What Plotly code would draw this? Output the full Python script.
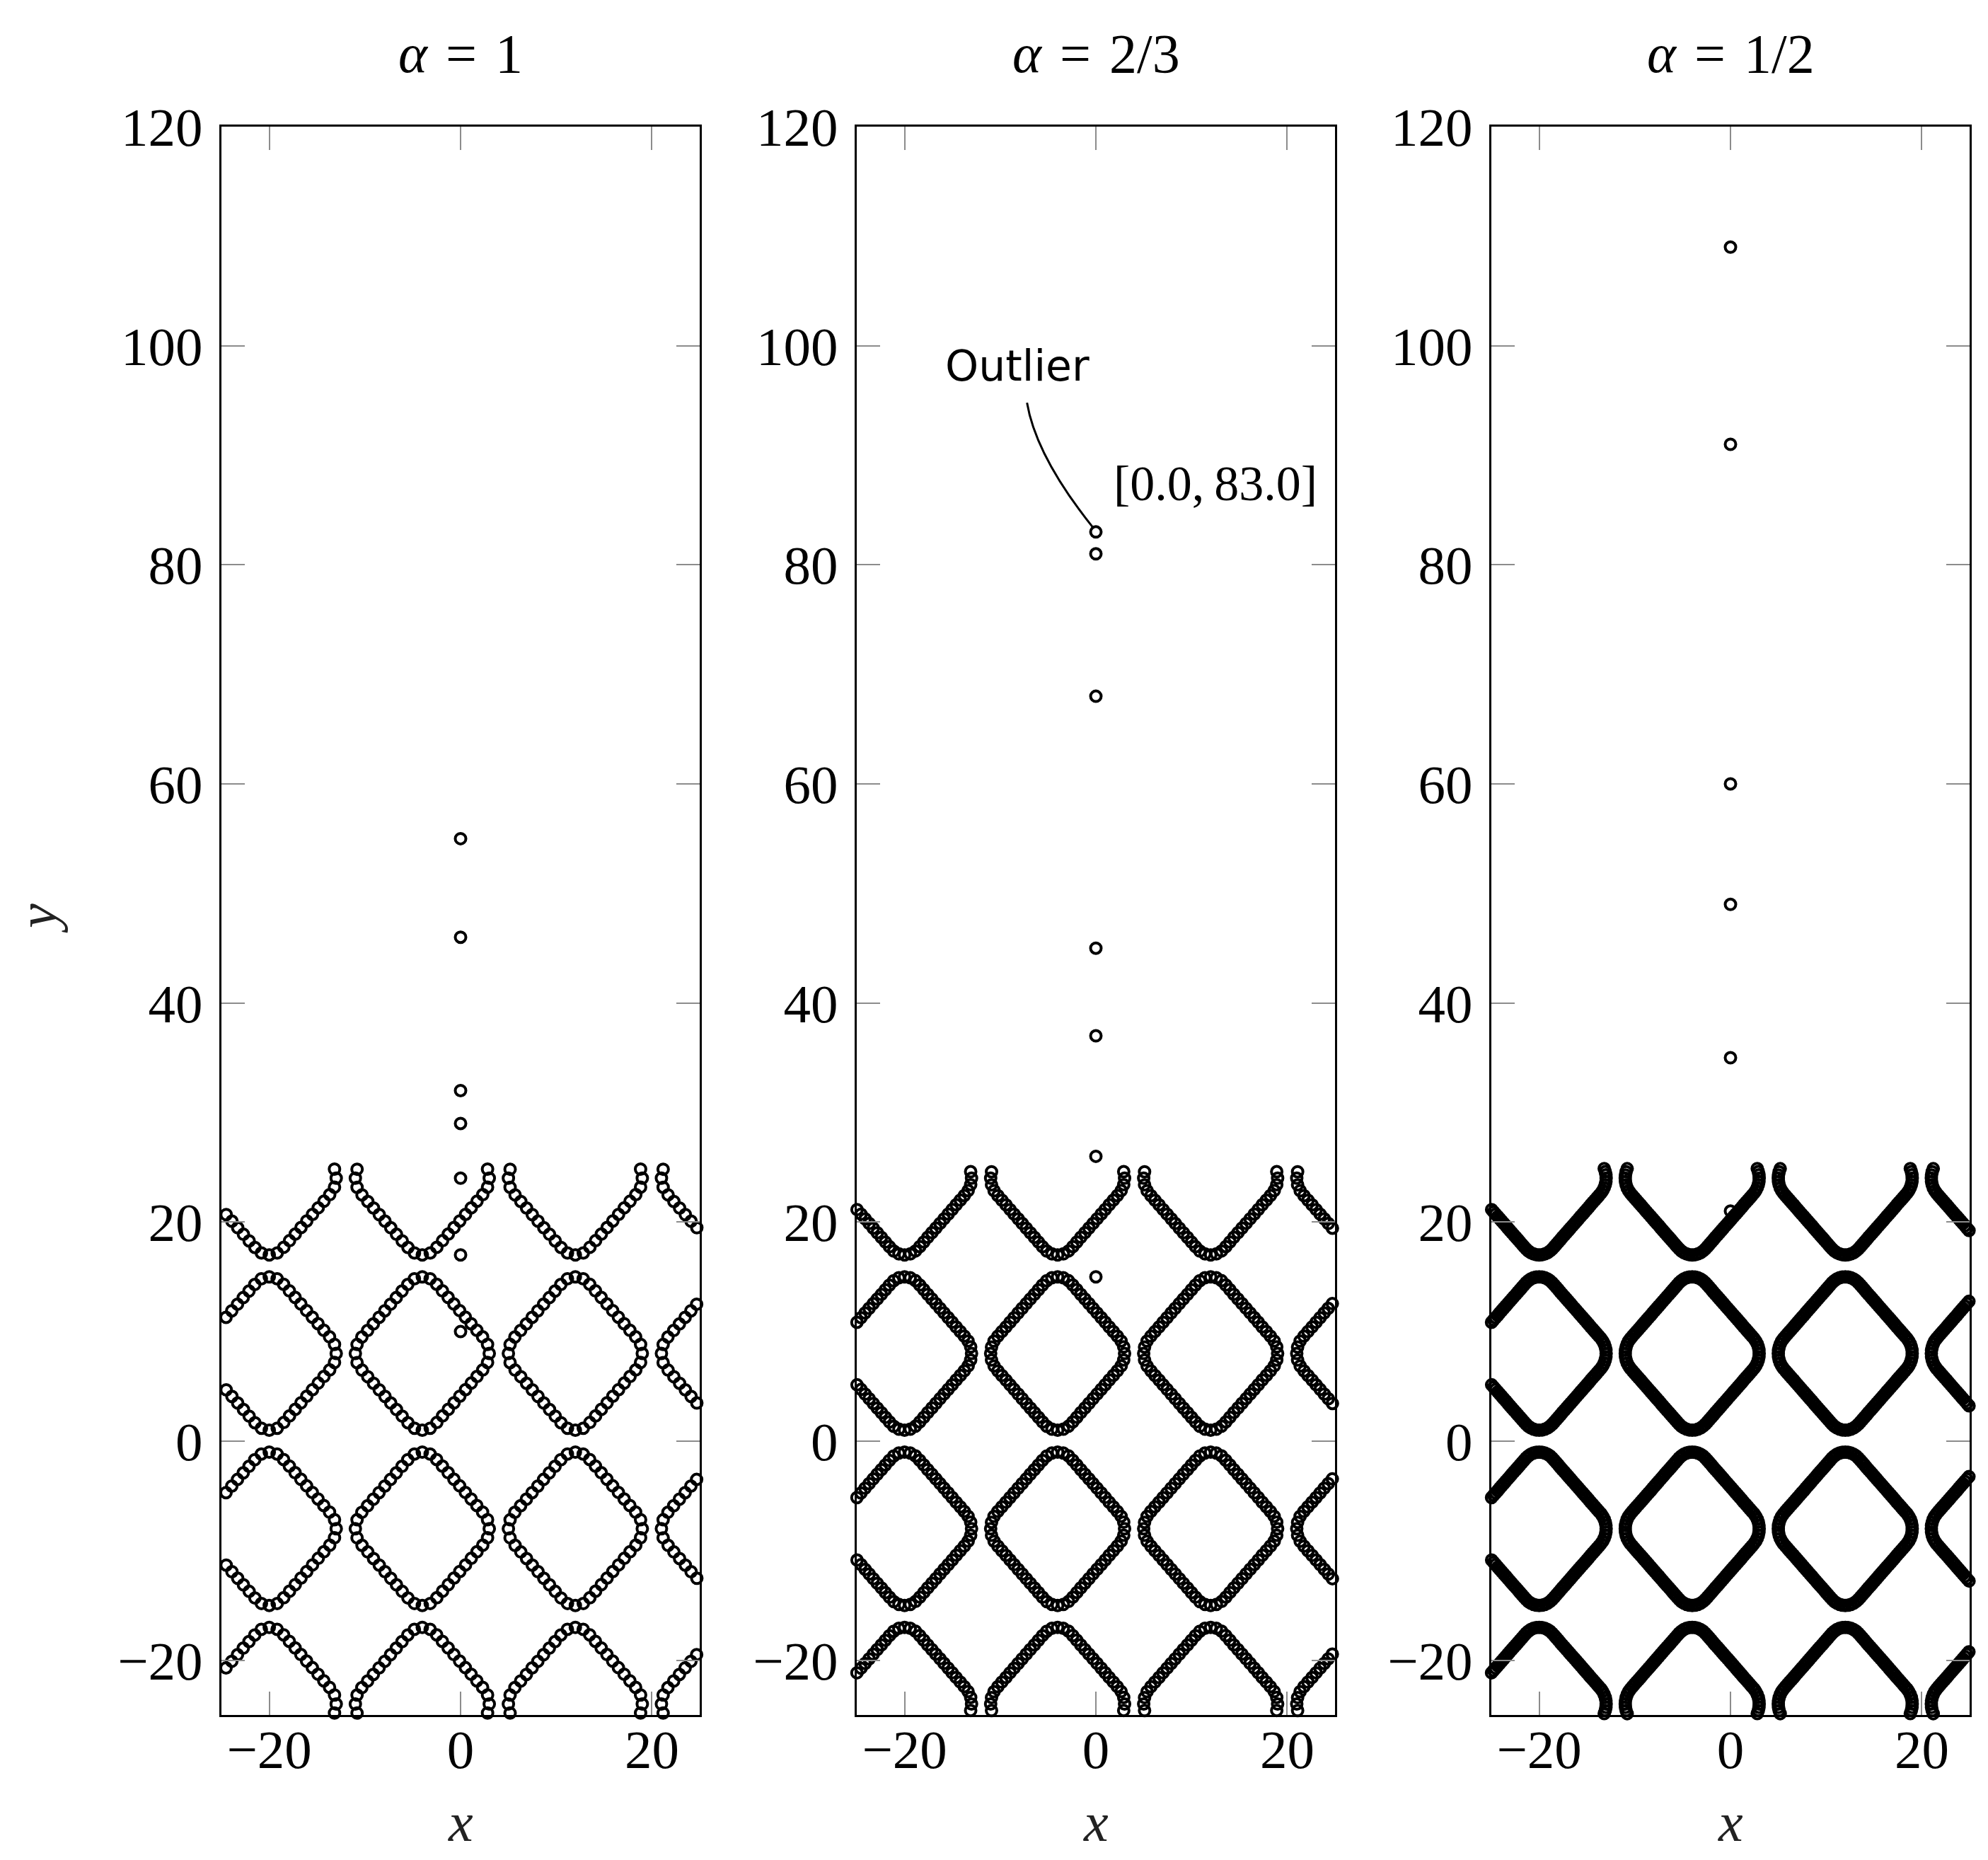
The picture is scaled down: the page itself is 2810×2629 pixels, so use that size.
import plotly.graph_objects as go

# panel titles
panel_titles = ['<i>α</i>\u2004=\u20041', '<i>α</i>\u2004=\u20042/3', '<i>α</i>\u2004=\u20041/2']

# centres of the repeating rounded diamonds
cell_x = [-20, -4, 12, 28]
cell_y = [-24, -8, 8, 24]

# one quarter of a diamond outline (top vertex -> right vertex), offsets from its centre
# alpha = 1 : sparse sampling
quarter_x_a1 = [0.00, 0.82, 1.50, 2.10, 2.70, 3.30, 3.90, 4.50, 5.10, 5.70, 6.30, 6.82]
quarter_y_a1 = [7.00, 6.82, 6.32, 5.72, 5.12, 4.52, 3.92, 3.32, 2.72, 2.12, 1.52, 0.83]
# alpha = 2/3
quarter_x_a2 = [0.00, 0.59, 1.13, 1.58, 2.00, 2.42, 2.85, 3.27, 3.70, 4.12, 4.55, 4.97, 5.39, 5.82, 6.24, 6.64, 6.91]
quarter_y_a2 = [7.00, 6.91, 6.65, 6.25, 5.83, 5.40, 4.98, 4.56, 4.13, 3.71, 3.28, 2.86, 2.43, 2.01, 1.59, 1.14, 0.60]
# alpha = 1/2 : dense sampling
quarter_x_a3 = [0.00, 0.30, 0.59, 0.87, 1.13, 1.36, 1.58, 1.79, 2.00, 2.21, 2.42, 2.64, 2.85, 3.06, 3.27, 3.48,
                3.70, 3.91, 4.12, 4.33, 4.55, 4.76, 4.97, 5.18, 5.39, 5.61, 5.82, 6.03, 6.24, 6.46, 6.64, 6.80,
                6.91, 6.98]
quarter_y_a3 = [7.00, 6.98, 6.91, 6.80, 6.65, 6.46, 6.25, 6.04, 5.83, 5.61, 5.40, 5.19, 4.98, 4.77, 4.56, 4.34,
                4.13, 3.92, 3.71, 3.50, 3.28, 3.07, 2.86, 2.65, 2.43, 2.22, 2.01, 1.80, 1.59, 1.37, 1.14, 0.88,
                0.60, 0.31]

# isolated points on x = 0
outlier_y_a1 = [55, 46, 32, 29, 24, 17, 10]
outlier_y_a2 = [83, 81, 68, 45, 37, 26, 15]
outlier_y_a3 = [109, 91, 60, 49, 35, 21]

x_ticks = [-20, 0, 20]
x_ticktext = ['−20', '0', '20']
y_ticks = [-20, 0, 20, 40, 60, 80, 100, 120]
y_ticktext = ['−20', '0', '20', '40', '60', '80', '100', '120']


def full_ring(qx, qy):
    # rotate the quarter four times (clockwise) to close the outline
    rx, ry = [], []
    px, py = list(qx), list(qy)
    for _ in range(4):
        rx += px
        ry += py
        px, py = py, [-v for v in px]
    return rx, ry


def lattice(qx, qy, ox):
    rx, ry = full_ring(qx, qy)
    xs, ys = [], []
    for cx in cell_x:
        for cy in cell_y:
            for dx, dy in zip(rx, ry):
                x, y = cx + dx, cy + dy
                if -25.05 <= x <= 25.05 and -25.05 <= y <= 25.05:
                    xs.append(x)
                    ys.append(y)
    xs += [0.0] * len(ox)
    ys += list(ox)
    return xs, ys


panels = [
    (quarter_x_a1, quarter_y_a1, outlier_y_a1),
    (quarter_x_a2, quarter_y_a2, outlier_y_a2),
    (quarter_x_a3, quarter_y_a3, outlier_y_a3),
]

# figure is 16px smaller than the window: the page body keeps an 8px margin
W, H, OFF = 2794, 2613, 8


def px_x(p):
    return (p - OFF) / W


def px_y(p):
    return 1 - (p - OFF) / H


x_domains = [[px_x(313), px_x(989)], [px_x(1211), px_x(1887)], [px_x(2108), px_x(2784)]]
y_domain = [px_y(2424), px_y(179)]

serif = 'Liberation Serif'
fig = go.Figure()

for i, (qx, qy, ox) in enumerate(panels):
    xs, ys = lattice(qx, qy, ox)
    sfx = '' if i == 0 else str(i + 1)
    fig.add_trace(go.Scatter(
        x=xs, y=ys, mode='markers', xaxis='x' + sfx, yaxis='y' + sfx,
        marker=dict(symbol='circle-open', size=15, color='black', line=dict(width=4, color='black')),
        cliponaxis=False, showlegend=False, hoverinfo='skip'))

    axis_common = dict(showgrid=False, zeroline=False, showline=True, linecolor='black', linewidth=3,
                       mirror='allticks', ticks='inside', ticklen=33, tickwidth=2, tickcolor='#8c8c8c',
                       automargin=False, tickfont=dict(family=serif, size=77, color='black'))
    fig.layout['xaxis' + sfx] = dict(axis_common, domain=x_domains[i], range=[-25, 25],
                                     tickvals=x_ticks, ticktext=x_ticktext, anchor='y' + sfx,
                                     ticklabelstandoff=-20)
    fig.layout['yaxis' + sfx] = dict(axis_common, domain=y_domain, range=[-25, 120],
                                     tickvals=y_ticks, ticktext=y_ticktext, anchor='x' + sfx,
                                     ticklabelstandoff=8)

    xc = (x_domains[i][0] + x_domains[i][1]) / 2
    fig.add_annotation(text=panel_titles[i], x=xc, y=px_y(76), xref='paper', yref='paper',
                       xanchor='center', yanchor='middle', showarrow=False,
                       font=dict(family=serif, size=78, color='black'))
    fig.add_annotation(text='<i>x</i>', x=xc, y=px_y(2575), xref='paper', yref='paper',
                       xanchor='center', yanchor='middle', showarrow=False,
                       font=dict(family=serif, size=78, color='#222222'))

fig.add_annotation(text='<i>y</i>', x=px_x(53), y=px_y(1298), xref='paper', yref='paper',
                   xanchor='center', yanchor='middle', textangle=-90, showarrow=False,
                   font=dict(family=serif, size=78, color='#222222'))

# outlier callout in the middle panel
fig.add_shape(type='path', path='M -7.2,94.8 Q -6.25,89.9 -0.3,83.4', xref='x2', yref='y2',
              line=dict(color='black', width=3))
fig.add_annotation(text='Outlier', x=-8.2, y=98.2, xref='x2', yref='y2', showarrow=False,
                   xanchor='center', yanchor='middle',
                   font=dict(family='DejaVu Sans', size=60, color='black'))
fig.add_annotation(text='[0.0,\u200983.0]', x=12.5, y=87.4, xref='x2', yref='y2', showarrow=False,
                   xanchor='center', yanchor='middle',
                   font=dict(family=serif, size=70, color='black'))

fig.update_layout(width=W, height=H, margin=dict(l=0, r=0, t=0, b=0, autoexpand=False),
                  paper_bgcolor='white', plot_bgcolor='white')

fig.write_html('out.html')
